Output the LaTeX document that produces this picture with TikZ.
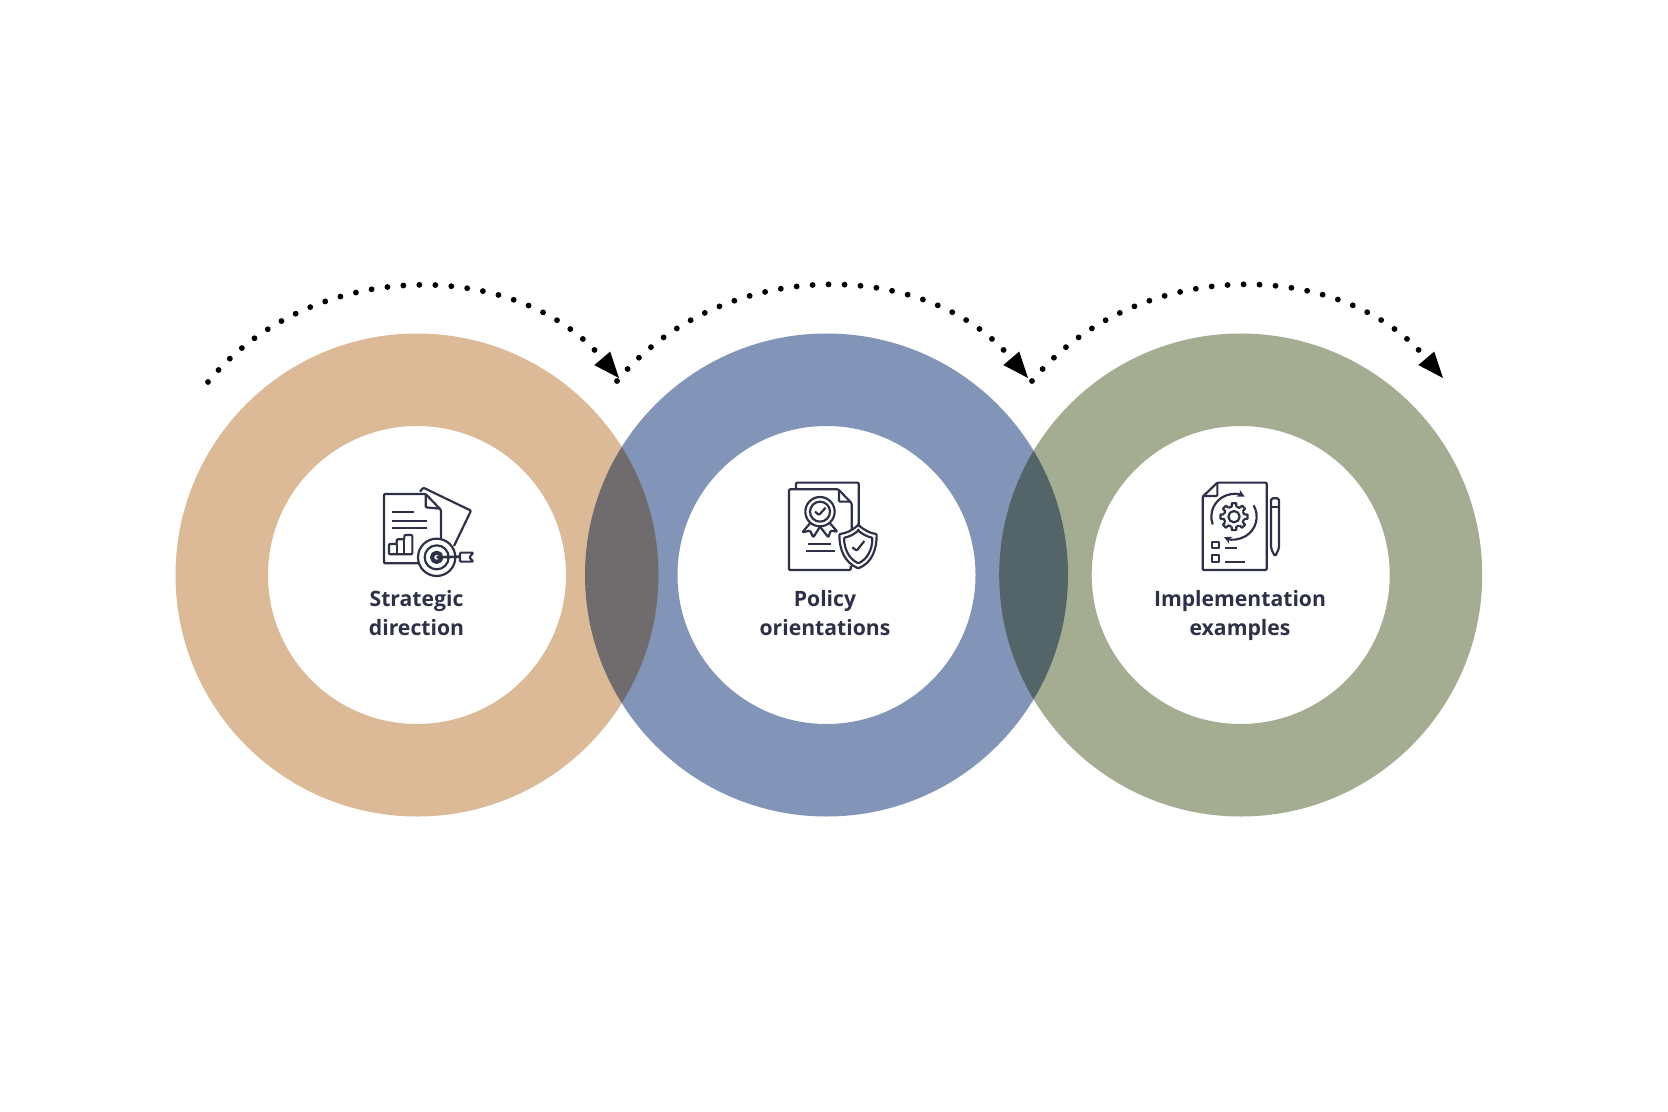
\documentclass[tikz,border=0pt]{standalone}
\usepackage{fontspec}
\setmainfont{Open Sans}
\usepackage{xcolor}
\usetikzlibrary{arrows.meta}
\usetikzlibrary{positioning}
\definecolor{ringtan}{HTML}{DCBA98}
\definecolor{ringblue}{HTML}{8295B8}
\definecolor{ringgreen}{HTML}{A4AD92}
\definecolor{inkblue}{HTML}{2E3047}
\tikzset{
    ringfill/.style={even odd rule,fill=#1},
    ringlabel/.style={align=center,text=inkblue,font=\fontsize{12.7}{17.2}\selectfont\bfseries,inner sep=0pt,text depth=0pt},
    hoparrow/.style={line width=3.5pt,line cap=round,dash pattern=on 0pt off 9.6pt,bend left=50,looseness=1,-{Triangle[length=15.5pt,width=12.5pt,line width=0pt]}},
    iconscope/.style={x=0.2pt,y=-0.2pt,line width=1.3pt,draw=inkblue,line join=round},
    iconline/.style={draw=inkblue,rounded corners=0.6pt},
}
\begin{document}
\begin{tikzpicture}[x=0.6pt,y=-0.6pt]
        \fill[white] (0,0) rectangle (1668,1112);
        \coordinate (centerA) at (417,575);
        \coordinate (centerB) at (826.5,575);
        \coordinate (centerC) at (1240.7,575);

        \begin{scope}[blend mode=multiply]
            \fill[ringfill=ringtan] (centerA) circle (241.5) (centerA) circle (149);
            \fill[ringfill=ringblue] (centerB) circle (241.5) (centerB) circle (149);
            \fill[ringfill=ringgreen] (centerC) circle (241.5) (centerC) circle (149);
        \end{scope}

        \coordinate (startA) at (208,382);
        \coordinate (endA) at (619,378);
        \coordinate (startB) at (617,381);
        \coordinate (endB) at (1028,378);
        \coordinate (startC) at (1032,381);
        \coordinate (endC) at (1443,378);
        \draw[hoparrow] (startA) to (endA);
        \draw[hoparrow] (startB) to (endB);
        \draw[hoparrow] (startC) to (endC);

        \node[ringlabel] (labelA) at (416.5,613) {Strategic\\direction};
        \node[ringlabel] (labelB) at (825,613) {Policy\\orientations};
        \node[ringlabel] (labelC) at (1240,613) {Implementation\\examples};

        \begin{scope}[shift={(360,460)},iconscope]
            \draw[iconline,fill=white] (180,95) -- (190,83) -- (333,152) -- (282,258);
            \draw[iconline,fill=white] (175,310) -- (72,310) -- (72,102) -- (197,102) -- (243,150) -- (243,238);
            \draw[iconline] (197,104) -- (197,142) -- (241,146);
            \draw (97,157) -- (163,157);
            \draw (97,182) -- (202,182);
            \draw (97,205) -- (202,205);
            \draw[iconline] (87,283) -- (87,252) -- (110,252) -- (110,238) -- (133,238) -- (133,225) -- (157,225) -- (157,283) -- cycle;
            \draw (110,252) -- (110,283);
            \draw (133,238) -- (133,283);
            \draw[fill=white] (230,292) circle (56);
            \draw (230,292) circle (36);
            \draw[line width=2.4pt] (230,292) circle (14);
            \draw[iconline,line width=1.6pt] (230,292) -- (300,290);
            \draw[iconline] (300,278) -- (340,278) -- (328,292) -- (340,305) -- (300,305) -- cycle;
        \end{scope}

        \begin{scope}[shift={(760,460)},iconscope]
            \draw[iconline] (108,88) -- (108,68) -- (296,68) -- (296,195);
            \draw[iconline,fill=white] (275,210) -- (275,130) -- (235,88) -- (87,88) -- (87,330) -- (272,330) -- (272,318);
            \draw[iconline] (237,90) -- (237,125) -- (273,125);
            \draw (180,155) circle (44);
            \draw (180,155) circle (30);
            \draw[iconline] (165,155) -- (177,165) -- (197,143);
            \draw[iconline] (150,190) -- (127,217) -- (150,212) -- (160,232) -- (180,200) -- (205,232) -- (212,212) -- (232,215) -- (210,190);
            \draw (145,252) -- (213,252);
            \draw (137,273) -- (225,273);
            \draw[iconline,fill=white] (295,195) .. controls (275,212) and (258,220) .. (238,222) .. controls (238,270) and (255,308) .. (295,325) .. controls (335,308) and (350,270) .. (350,222) .. controls (332,220) and (315,212) .. (295,195) -- cycle;
            \draw[iconline] (295,212) .. controls (280,224) and (268,230) .. (252,233) .. controls (253,268) and (267,296) .. (295,310) .. controls (323,296) and (337,268) .. (337,233) .. controls (322,230) and (310,224) .. (295,212) -- cycle;
            \draw[iconline] (277,262) -- (290,272) -- (313,243);
        \end{scope}

        \begin{scope}[shift={(1140,460)},iconscope]
            \draw[iconline] (232,68) -- (380,68) -- (380,330) -- (188,330) -- (188,110) -- cycle;
            \draw[iconline] (190,108) -- (232,108) -- (232,70);
            \begin{scope}[shift={(282,170)}]
                \draw (0,0) circle (17);
                \foreach \a in {0,45,...,315} {
                    \draw[line join=round] ({\a-31}:31) -- ({\a-13}:31) -- ({\a-9}:41) -- ({\a+9}:41) -- ({\a+13}:31);
                }
                \draw[-{Stealth[length=4.5pt,width=4.5pt]}] (160:68) arc (160:298:68);
                \draw[-{Stealth[length=4.5pt,width=4.5pt]}] (330:68) arc (330:476:68);
            \end{scope}
            \draw (215,245) rectangle (238,265);
            \draw (215,285) rectangle (238,307);
            \draw (255,265) -- (290,265);
            \draw (255,305) -- (315,305);
            \draw[iconline,rounded corners=1pt] (393,265) -- (393,115) -- (417,115) -- (417,265) -- (405,290) -- cycle;
            \draw (393,140) -- (417,140);
        \end{scope}
\end{tikzpicture}
\end{document}
